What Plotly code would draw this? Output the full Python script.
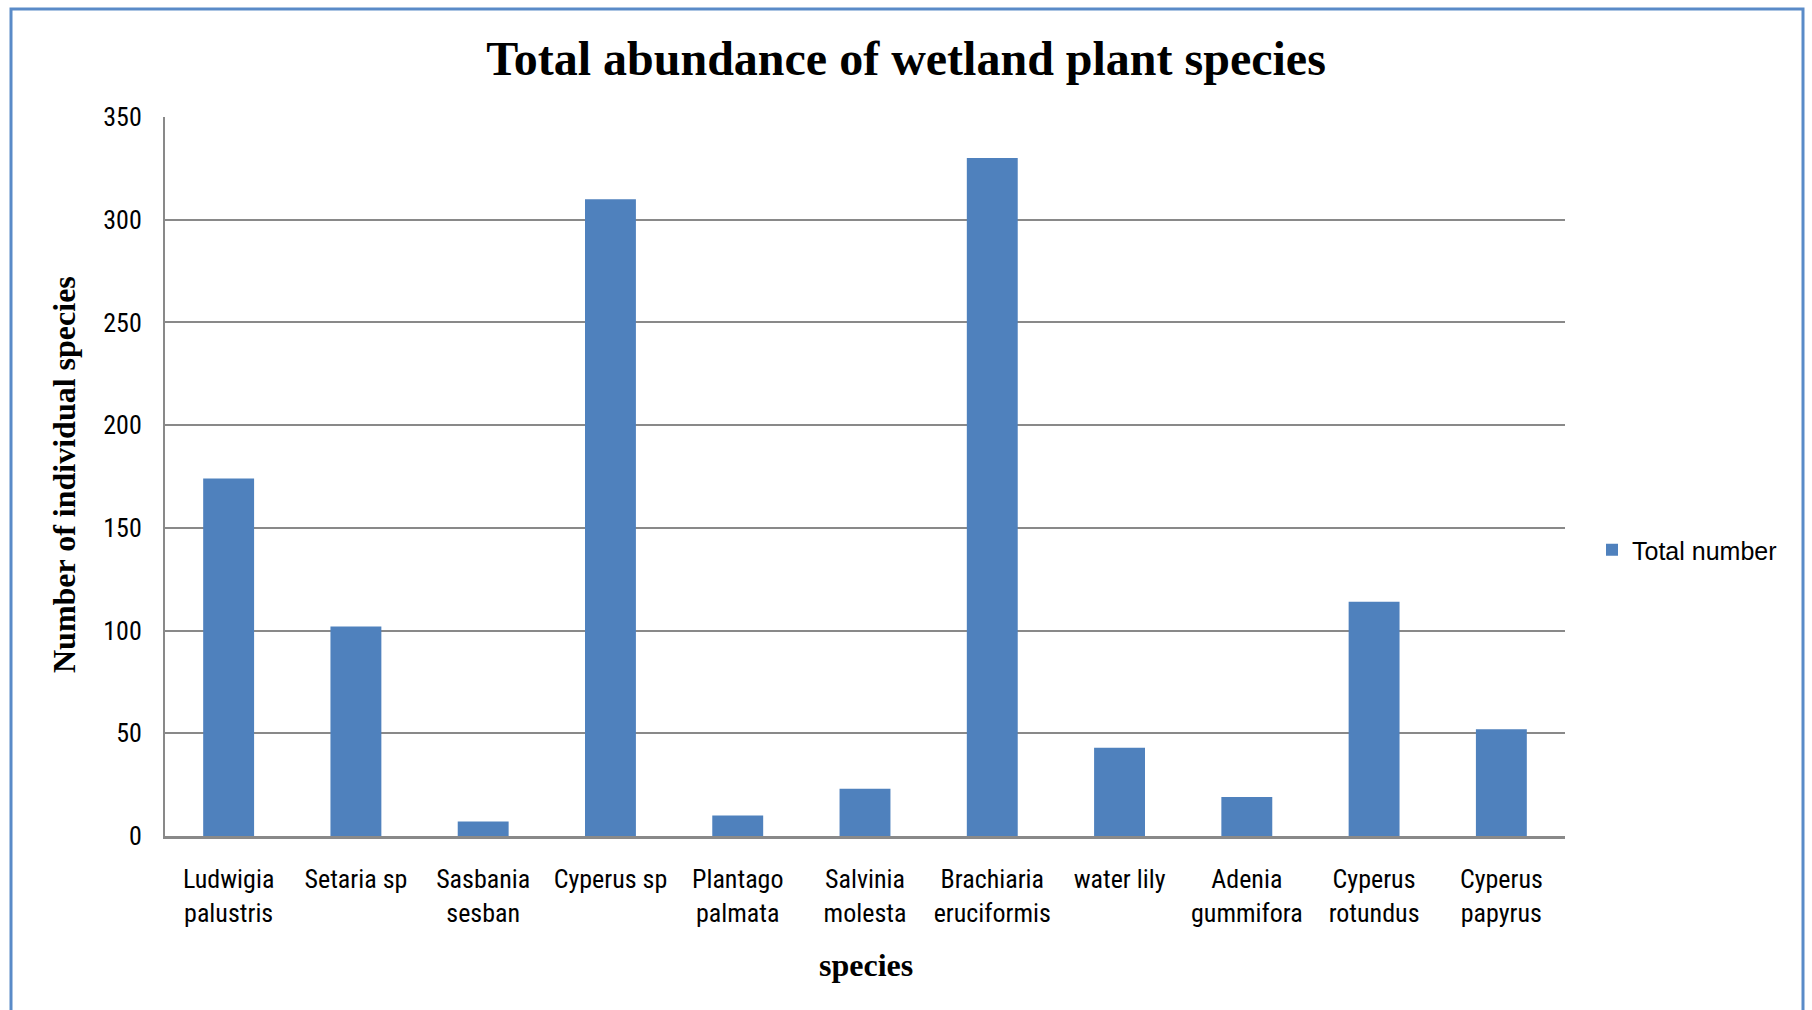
import plotly.graph_objects as go

species = ["Ludwigia<br>palustris", "Setaria sp", "Sasbania<br>sesban", "Cyperus sp",
           "Plantago<br>palmata", "Salvinia<br>molesta", "Brachiaria<br>eruciformis",
           "water lily", "Adenia<br>gummifora", "Cyperus<br>rotundus", "Cyperus<br>papyrus"]
total_number = [174, 102, 7, 310, 10, 23, 330, 43, 19, 114, 52]
y_ticks = [0, 50, 100, 150, 200, 250, 300, 350]

W, H = 1812, 1010
L, R, T, B = 165, 247, 117, 174
pw, ph = W - L - R, H - T - B

def px(x):
    return (x - L) / pw

def py(y):
    return (H - B - y) / ph

bar_color = "#4F81BD"
grid = "#898989"
tick_font = "Liberation Sans Narrow, Arial Narrow, Roboto Condensed, sans-serif"
serif = "Liberation Serif, Times New Roman, serif"

fig = go.Figure()
fig.add_trace(go.Bar(x=species, y=total_number, name="Total number",
                     marker=dict(color=bar_color, line=dict(width=0))))

fig.update_layout(
    width=W, height=H,
    margin=dict(l=L, r=R, t=T, b=B),
    paper_bgcolor="white", plot_bgcolor="white",
    bargap=0.6,
    showlegend=True,
    title=dict(text="<b>Total abundance of wetland plant species</b>",
               x=0.5, xref="container", xanchor="center",
               y=1 - 58 / H, yref="container", yanchor="middle",
               font=dict(family=serif, size=48, color="black")),
    legend=dict(x=px(1592), y=py(550), xanchor="left", yanchor="middle",
                font=dict(family="Liberation Sans, Arial, sans-serif", size=25, color="black"),
                itemwidth=30, bgcolor="rgba(0,0,0,0)"),
    font=dict(family=tick_font, size=26, color="black"),
)

fig.update_yaxes(range=[0, 350], tickvals=y_ticks, showgrid=True, gridcolor=grid, gridwidth=2,
                 showline=True, linecolor=grid, linewidth=2, zeroline=False,
                 ticks="", ticklabelstandoff=16,
                 tickfont=dict(family=tick_font, size=26, color="black"))
fig.update_xaxes(showline=True, linecolor=grid, linewidth=3, ticks="", ticklabelstandoff=18,
                 tickfont=dict(family=tick_font, size=26, color="black"), tickangle=0)

fig.add_annotation(text="<b>Number of individual species</b>", textangle=-90,
                   x=px(64), y=py(475), xref="paper", yref="paper",
                   xanchor="center", yanchor="middle", showarrow=False,
                   font=dict(family=serif, size=32, color="black"))
fig.add_annotation(text="<b>species</b>",
                   x=px(866), y=py(965), xref="paper", yref="paper",
                   xanchor="center", yanchor="middle", showarrow=False,
                   font=dict(family=serif, size=32, color="black"))

fig.add_shape(type="rect", xref="paper", yref="paper",
              x0=px(11), x1=px(1803), y0=py(1030), y1=py(9),
              line=dict(color="#5A8BC8", width=3), fillcolor="rgba(0,0,0,0)", layer="below")

fig.write_html("out.html", config={"displayModeBar": False},
               post_script="document.body.style.margin='0';document.body.style.overflow='hidden';")
